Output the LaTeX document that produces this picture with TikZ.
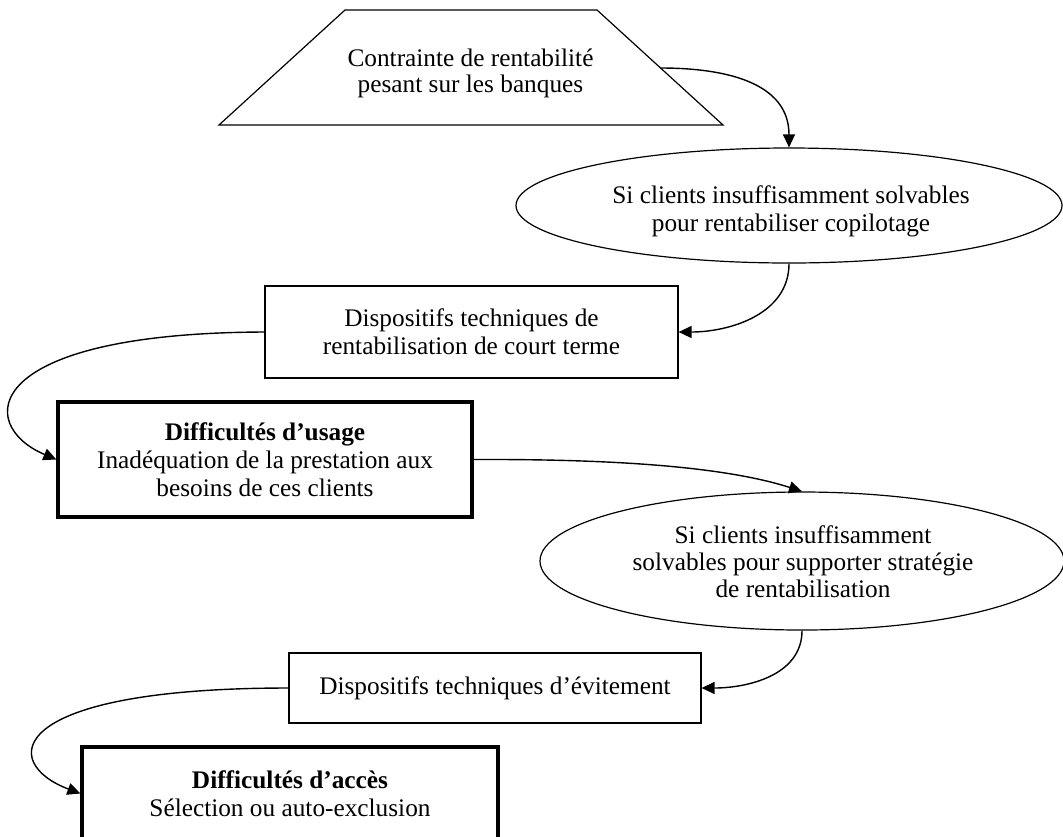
\documentclass[tikz,border=0pt]{standalone}
\usepackage{fontspec}
\setmainfont{Liberation Serif}
\usetikzlibrary{shapes.geometric,arrows.meta}
\begin{document}
\begin{tikzpicture}[x=0.5pt,y=-0.5pt,
  every node/.style={font=\fontsize{12.65pt}{14pt}\selectfont},
  thinbox/.style={draw, rectangle, line width=0.6pt, inner sep=0pt, align=center},
  thickbox/.style={draw, rectangle, line width=1.6pt, inner sep=0pt, align=center},
  oval/.style={draw, ellipse, line width=0.6pt, inner sep=0pt},
  outline/.style={draw, line width=0.6pt, line join=miter},
  caption/.style={align=center, inner sep=0pt},
  link/.style={line width=0.7pt, -{Triangle[length=6.5pt,width=6pt]}},
]
\useasboundingbox (0,0) rectangle (1063,836);
\clip (0,0) rectangle (1063,836);

% trapezoid: corners, outline and caption
\coordinate (trTL) at (345,10);
\coordinate (trTR) at (597,10);
\coordinate (trBR) at (723,125);
\coordinate (trBL) at (219,125);
\coordinate (trR) at (660.5,68);
\path[outline] (trTL) -- (trTR) -- (trBR) -- (trBL) -- cycle;
\node[caption, font=\fontsize{12.65pt}{13pt}\selectfont] (trt) at (470.5,73)
  {Contrainte de rentabilité\\pesant sur les banques};

% ovals and boxes
\node[oval, minimum width=273pt, minimum height=57.5pt] (e1) at (789,205.5) {};
\node[caption] (e1t) at (791,211.5)
  {Si clients insuffisamment solvables\\pour rentabiliser copilotage};

\node[thinbox, minimum width=206.5pt, minimum height=46pt] (b1) at (471.5,332)
  {Dispositifs techniques de\\rentabilisation de court terme};

\node[thickbox, minimum width=207pt, minimum height=57.5pt] (b2) at (265,459.5)
  {\textbf{Difficultés d’usage}\\Inadéquation de la prestation aux\\besoins de ces clients};

\node[oval, minimum width=262pt, minimum height=69pt] (e2) at (802,561) {};
\node[caption, font=\fontsize{12.65pt}{13.5pt}\selectfont] (e2t) at (803,561.5)
  {Si clients insuffisamment\\solvables pour supporter stratégie\\de rentabilisation};

\node[thinbox, minimum width=206pt, minimum height=35pt] (b3) at (495,688)
  {Dispositifs techniques d’évitement};

\node[thickbox, minimum width=208pt, minimum height=46.5pt] (b4) at (290,793.5)
  {\textbf{Difficultés d’accès}\\Sélection ou auto-exclusion};

% connectors
\draw[link] (trR) to[out=0,in=90,looseness=1.1] (e1.north);
\draw[link] (e1.south) to[out=-90,in=0] (b1.east);
\draw[link] (b1.west) .. controls (-20,333) and (-25,425) .. (b2.west);
\draw[link] (b2.east) .. controls (600,459) and (720,465) .. (e2.north);
\draw[link] (e2.south) to[out=-90,in=0] (b3.east);
\draw[link] (b3.west) .. controls (4,688) and (-1,763) .. (b4.west);
\end{tikzpicture}
\end{document}
